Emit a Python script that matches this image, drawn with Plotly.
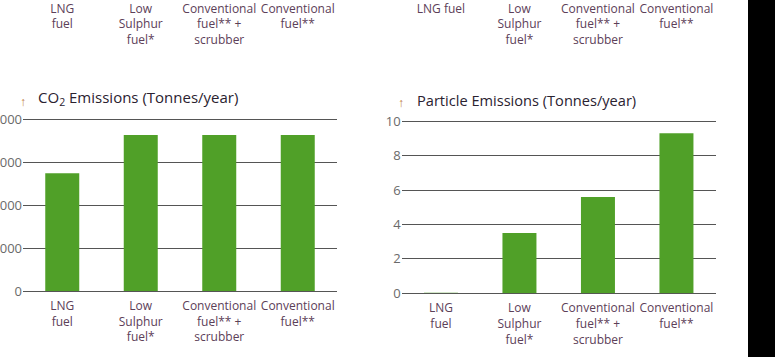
import plotly.graph_objects as go

# ---------------- data ----------------
categories = ["LNG<br>fuel", "Low<br>Sulphur<br>fuel*",
              "Conventional<br>fuel** +<br>scrubber", "Conventional<br>fuel**"]
co2_values = [27400, 36300, 36300, 36300]
particle_values = [0.03, 3.5, 5.6, 9.3]
co2_ticks = [0, 10000, 20000, 30000, 40000]
particle_ticks = [0, 2, 4, 6, 8, 10]
top_left_labels = ["LNG<br>fuel", "Low<br>Sulphur<br>fuel*",
                   "Conventional<br>fuel** +<br>scrubber", "Conventional<br>fuel**"]
top_right_labels = ["LNG fuel", "Low<br>Sulphur<br>fuel*",
                    "Conventional<br>fuel** +<br>scrubber", "Conventional<br>fuel**"]
co2_title = "CO<sub>2</sub> Emissions (Tonnes/year)"
particle_title = "Particle Emissions (Tonnes/year)"

# ---------------- style ----------------
W, H = 775, 357
GREEN = "#50a028"
GRID = "#555555"
TICK_COLOR = "#6a6a6a"
CAT_COLOR = "#5c4058"
TITLE_COLOR = "#2a2230"
ARROW_COLOR = "#c07a3a"
FONT = "Open Sans"

def px_x(p):
    return p / W

def px_y(p):
    return 1 - p / H

left_x = [px_x(23), px_x(337)]
right_x = [px_x(401.7), px_x(715.7)]
left_y = [px_y(291), px_y(116.85)]
right_y = [px_y(293.3), px_y(118.72)]
top_y = [0.99, 1.0]

fig = go.Figure()
fig.add_trace(go.Bar(x=categories, y=co2_values, marker_color=GREEN,
                     marker_line_width=0, xaxis="x", yaxis="y", hoverinfo="skip"))
fig.add_trace(go.Bar(x=categories, y=particle_values, marker_color=GREEN,
                     marker_line_width=0, xaxis="x2", yaxis="y2", hoverinfo="skip"))
# upper charts (cut off by the frame): only their category labels remain visible
fig.add_trace(go.Bar(x=top_left_labels, y=[None] * len(top_left_labels),
                     marker_color=GREEN, xaxis="x3", yaxis="y3", hoverinfo="skip"))
fig.add_trace(go.Bar(x=top_right_labels, y=[None] * len(top_right_labels),
                     marker_color=GREEN, xaxis="x4", yaxis="y4", hoverinfo="skip"))

cat_font = dict(family=FONT, size=12, color=CAT_COLOR)
num_font = dict(family=FONT, size=13, color=TICK_COLOR)

common_x = dict(showgrid=False, zeroline=False, showline=False, ticks="",
                tickfont=cat_font, tickangle=0, fixedrange=True)
common_y = dict(showgrid=True, gridcolor=GRID, gridwidth=1, zeroline=True,
                zerolinecolor=GRID, zerolinewidth=1, showline=False, ticks="",
                tickfont=num_font, tickformat="d", fixedrange=True)

fig.update_layout(
    width=W, height=H,
    margin=dict(l=0, r=0, t=0, b=0, autoexpand=False),
    paper_bgcolor="white", plot_bgcolor="white",
    showlegend=False, bargap=0.567,
    font=dict(family=FONT),
    xaxis=dict(domain=left_x, anchor="y", ticklabelstandoff=6, **common_x),
    yaxis=dict(domain=left_y, anchor="x", range=[0, 40500],
               tickmode="array", tickvals=co2_ticks, **common_y),
    xaxis2=dict(domain=right_x, anchor="y2", ticklabelstandoff=6, **common_x),
    yaxis2=dict(domain=right_y, anchor="x2", range=[0, 10.15],
                tickmode="array", tickvals=particle_ticks, **common_y),
    xaxis3=dict(domain=left_x, anchor="y3", ticklabelstandoff=-4, **common_x),
    yaxis3=dict(domain=top_y, anchor="x3", visible=False, range=[0, 1]),
    xaxis4=dict(domain=right_x, anchor="y4", ticklabelstandoff=-4, **common_x),
    yaxis4=dict(domain=top_y, anchor="x4", visible=False, range=[0, 1]),
)

title_font = dict(family=FONT, size=15, color=TITLE_COLOR)
arrow_font = dict(family=FONT, size=12, color=ARROW_COLOR)
fig.add_annotation(xref="paper", yref="paper", x=px_x(36), y=px_y(98),
                   xanchor="left", yanchor="middle", showarrow=False,
                   text=co2_title, font=title_font)
fig.add_annotation(xref="paper", yref="paper", x=px_x(23), y=px_y(101),
                   xanchor="center", yanchor="middle", showarrow=False,
                   text="↑", font=arrow_font)
fig.add_annotation(xref="paper", yref="paper", x=px_x(415), y=px_y(100),
                   xanchor="left", yanchor="middle", showarrow=False,
                   text=particle_title, font=dict(family=FONT, size=14.6, color=TITLE_COLOR))
fig.add_annotation(xref="paper", yref="paper", x=px_x(401), y=px_y(103),
                   xanchor="center", yanchor="middle", showarrow=False,
                   text="↑", font=arrow_font)

fig.add_shape(type="rect", xref="paper", yref="paper",
              x0=px_x(748), x1=1.0, y0=0, y1=1,
              fillcolor="black", line_width=0, layer="above")

fig.write_html(
    "out.html",
    config={"displayModeBar": False, "staticPlot": True},
    post_script="document.body.style.margin='0';document.body.style.overflow='hidden';",
)
